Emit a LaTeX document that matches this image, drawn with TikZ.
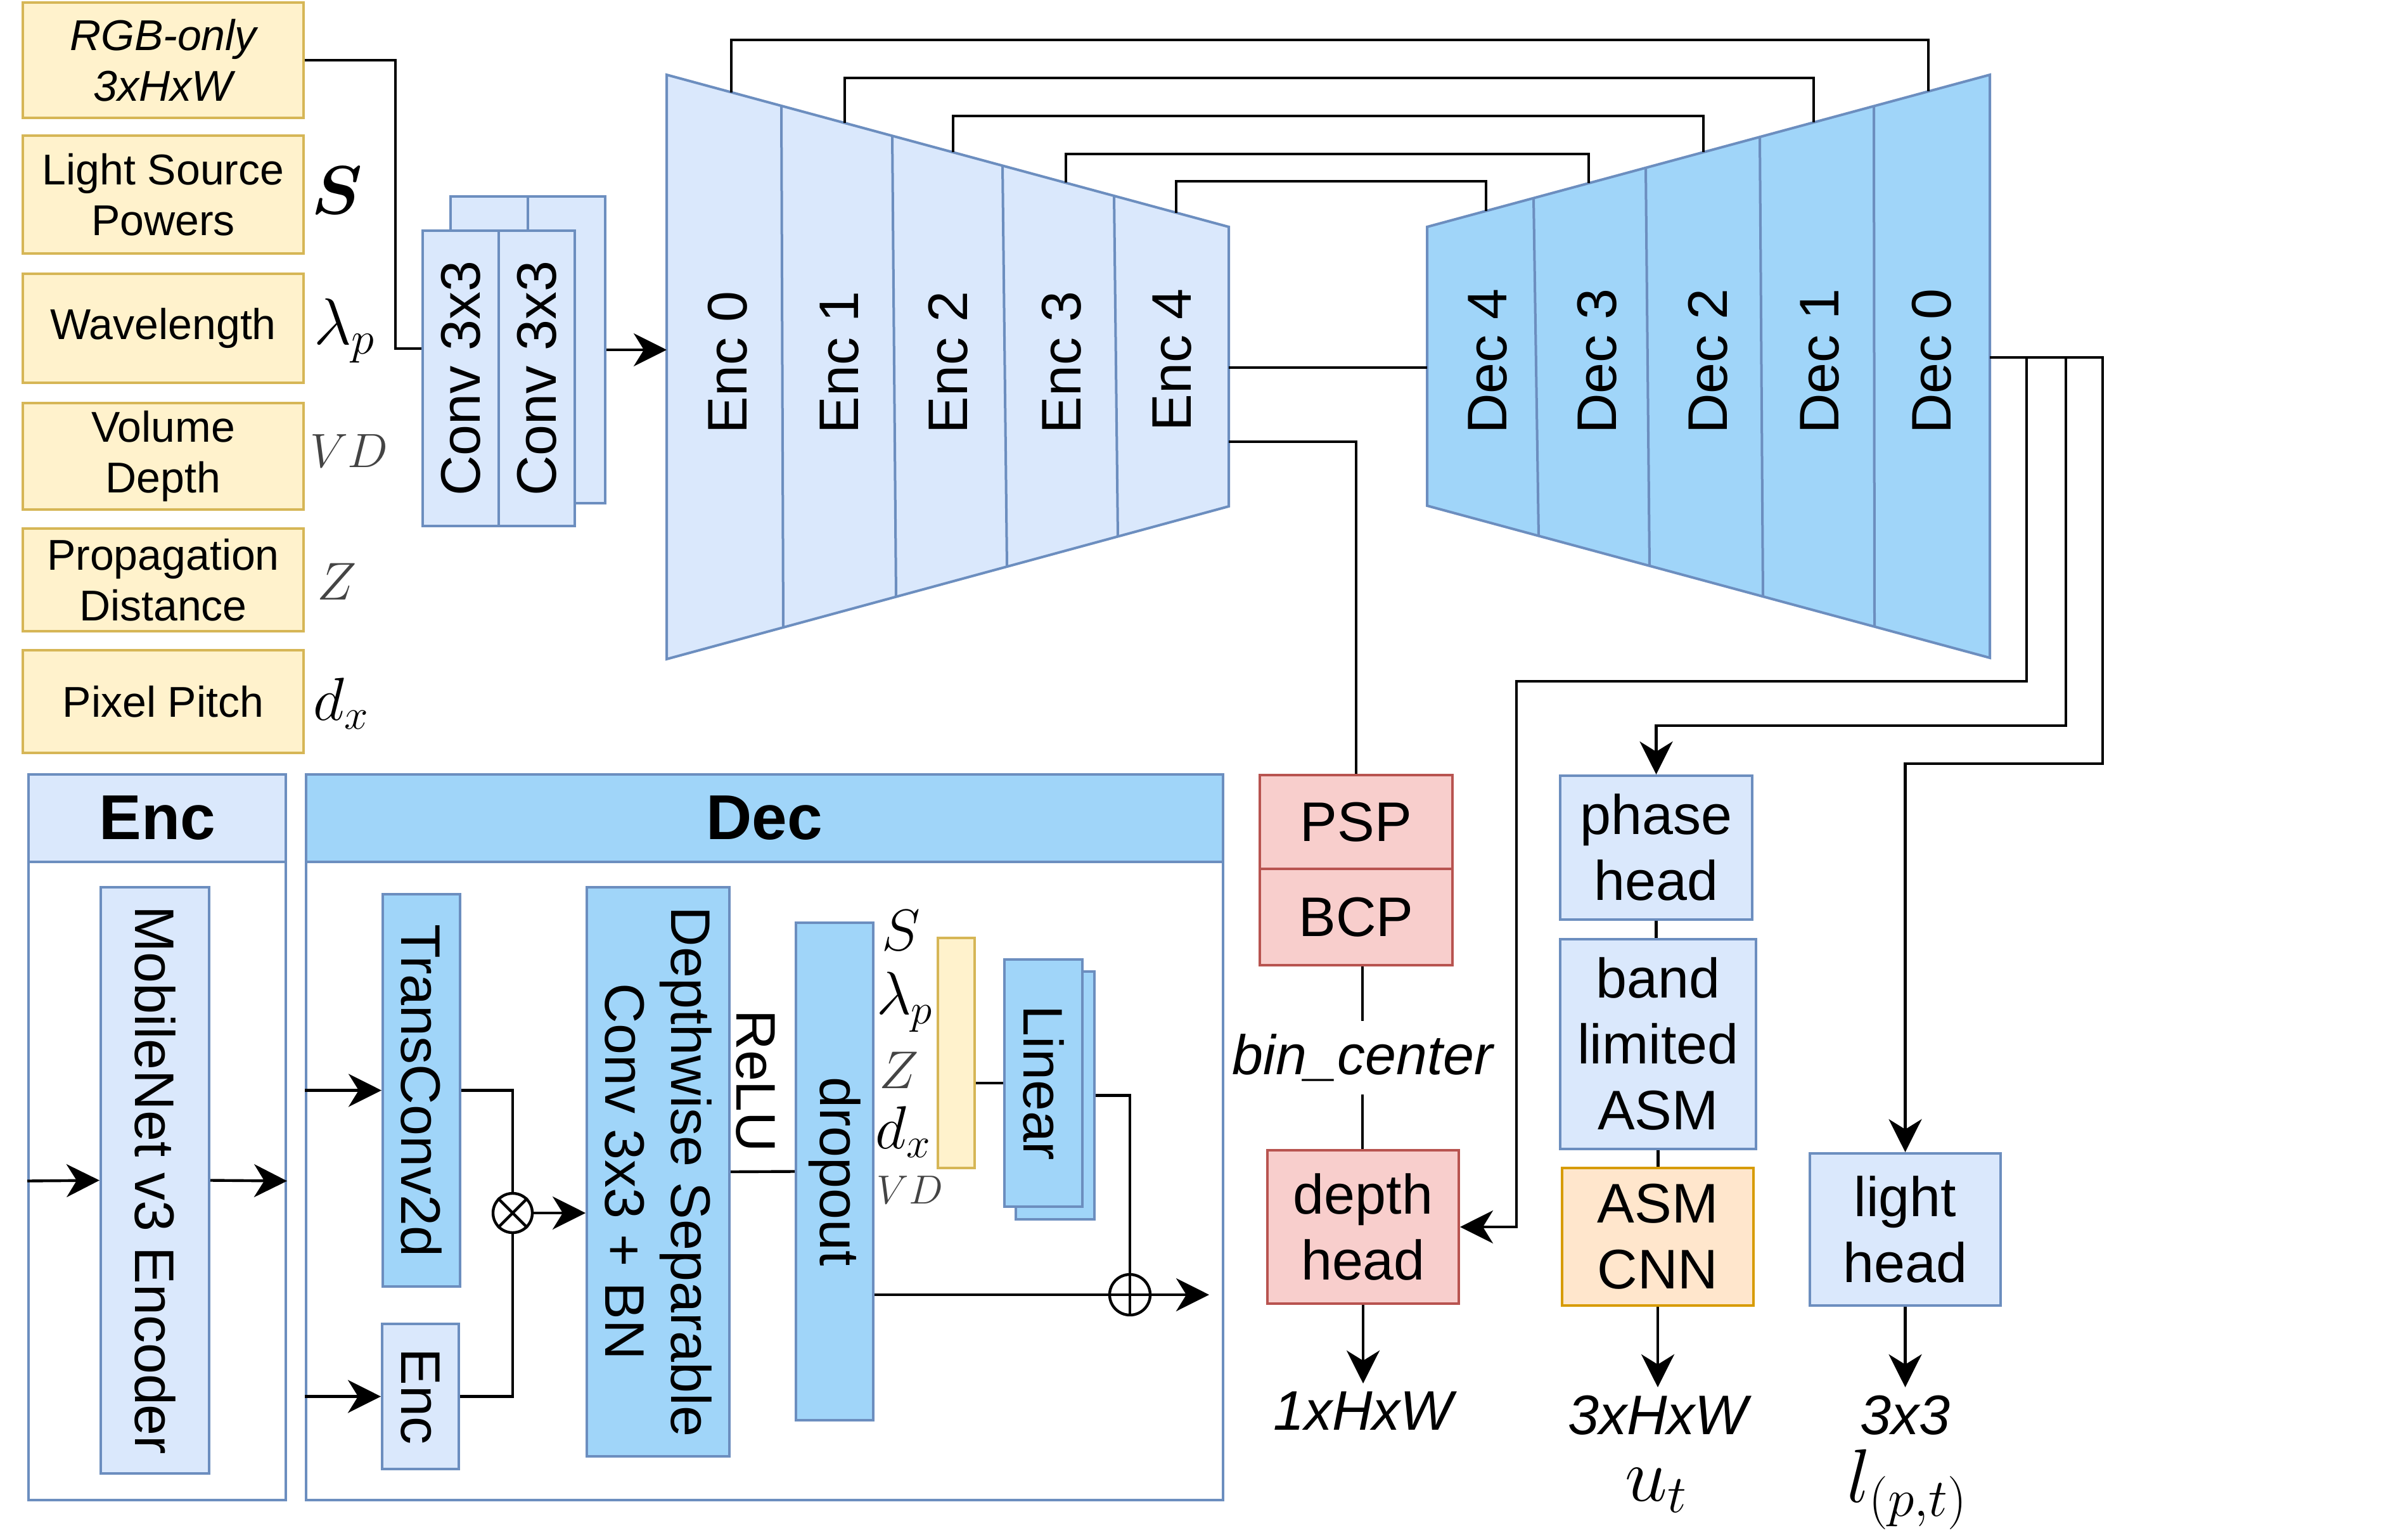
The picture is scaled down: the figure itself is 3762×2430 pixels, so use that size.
\RequirePackage{fix-cm}
\documentclass[tikz,border=0pt]{standalone}
\usepackage[no-math]{fontspec}
\setmainfont{Liberation Sans}
\usepackage{bm}
\usetikzlibrary{arrows.meta, positioning}

\definecolor{blueFill}{HTML}{DAE8FC}
\definecolor{blueLine}{HTML}{6C8EBF}
\definecolor{deepFill}{HTML}{A0D5F9}
\definecolor{yellowFill}{HTML}{FFF2CC}
\definecolor{yellowLine}{HTML}{D6B656}
\definecolor{redFill}{HTML}{F8CECC}
\definecolor{redLine}{HTML}{B85450}
\definecolor{orangeFill}{HTML}{FFE6CC}
\definecolor{orangeLine}{HTML}{D79B00}
\definecolor{mathGray}{HTML}{444444}

\newcommand{\bigtext}{\fontsize{22}{26}\selectfont}
\newcommand{\smalltext}{\fontsize{17}{20}\selectfont}
\newcommand{\headtext}{\fontsize{25}{30}\selectfont\bfseries}

\begin{document}
\begin{tikzpicture}[
		x=0.25pt, y=-0.25pt,
		inbox/.style={draw=yellowLine, fill=yellowFill, line width=1pt, align=center, inner sep=0pt, minimum width=110.75pt, font=\smalltext},
		box/.style={draw=blueLine, fill=blueFill, line width=1pt, align=center, inner sep=0pt, font=\bigtext},
		deepbox/.style={box, fill=deepFill},
		redbox/.style={box, draw=redLine, fill=redFill},
		orangebox/.style={box, draw=orangeLine, fill=orangeFill},
		vtext/.style={label={[rotate=-90, align=center, font=\bigtext]center:#1}},
		vtextup/.style={label={[rotate=90, align=center, font=\bigtext]center:#1}},
		trap/.style={draw=blueLine, line width=1pt},
		mathlbl/.style={inner sep=0pt, font=\fontsize{24}{28}\selectfont},
		outlabel/.style={inner sep=3pt, font=\bigtext\itshape},
		conn/.style={line width=1.1pt},
		arrow/.style={conn, -{Stealth[length=13pt, width=13pt, inset=4pt]}},
		circ/.style={draw, circle, line width=1.1pt, inner sep=0pt}
		]
		\useasboundingbox (0,0) rectangle (3762,2430);
		
		% Inputs
		\node[inbox, minimum height=45.5pt, font=\smalltext\itshape] (rgb) at (257.5,95) {RGB-only\\3xHxW};
		\node[inbox, minimum height=46.5pt, below=6pt of rgb] (lsp) {Light Source\\Powers};
		\node[inbox, minimum height=43pt, below=7pt of lsp] (wav) {Wavelength};
		\node[inbox, minimum height=42pt, below=7pt of wav] (vdep) {Volume\\Depth};
		\node[inbox, minimum height=40.5pt, below=6.5pt of vdep] (prop) {Propagation\\Distance};
		\node[inbox, minimum height=40.5pt, below=6.5pt of prop] (pix) {Pixel Pitch};
		
		% Input symbols
		\node[mathlbl, font=\fontsize{27}{30}\selectfont] (ssym) at (532,300) {$\bm{S}$};
		\node[mathlbl, font=\fontsize{26}{30}\selectfont] (lamsym) at (544,522) {$\lambda_p$};
		\node[mathlbl, text=mathGray, font=\fontsize{19}{22}\selectfont] (vdsym) at (551,712) {$VD$};
		\node[mathlbl, text=mathGray, font=\fontsize{21}{24}\selectfont] (zsym) at (532,918) {$Z$};
		\node[mathlbl] (dxsym) at (539,1110) {$d_x$};
		
		% Conv stem
		\node[box, minimum width=30.5pt, minimum height=121pt] (cb1) at (772,552) {};
		\node[box, minimum width=30.5pt, minimum height=121pt] (cb2) at (894,552) {};
		\node[box, vtextup=Conv 3x3, minimum width=30pt, minimum height=116.5pt] (cf1) at (727,597) {};
		\node[box, vtextup=Conv 3x3, minimum width=30pt, minimum height=116.5pt] (cf2) at (847,597) {};
		
		% Encoder
		\draw[trap, fill=blueFill] (1052,118) -- (1939,358) -- (1939,799) -- (1052,1040) -- cycle;
		\draw[trap] (1233,167) -- (1236,990) (1408,214) -- (1414,942) (1582,261) -- (1589,894) (1758,309) -- (1764,847);
		\node[rotate=90, font=\bigtext] (enc0) at (1148,572) {Enc 0};
		\node[rotate=90, font=\bigtext] (enc1) at (1325,572) {Enc 1};
		\node[rotate=90, font=\bigtext] (enc2) at (1496,572) {Enc 2};
		\node[rotate=90, font=\bigtext] (enc3) at (1675,572) {Enc 3};
		\node[rotate=90, font=\bigtext] (enc4) at (1850,568) {Enc 4};
		
		% Decoder
		\draw[trap, fill=deepFill] (2252,358) -- (3140,118) -- (3140,1038) -- (2252,798) -- cycle;
		\draw[trap] (2420,313) -- (2428,846) (2597,265) -- (2603,893) (2777,216) -- (2782,941) (2957,167) -- (2958,989);
		\node[rotate=90, font=\bigtext] (dec4) at (2348,570) {Dec 4};
		\node[rotate=90, font=\bigtext] (dec3) at (2520,570) {Dec 3};
		\node[rotate=90, font=\bigtext] (dec2) at (2695,570) {Dec 2};
		\node[rotate=90, font=\bigtext] (dec1) at (2872,570) {Dec 1};
		\node[rotate=90, font=\bigtext] (dec0) at (3048,570) {Dec 0};
		
		% Ports on the trapezoids
		\coordinate (encL) at (1052,552);
		\coordinate (encR) at (1939,580);
		\coordinate (encR2) at (1939,697);
		\coordinate (decL) at (2252,580);
		\coordinate (decR) at (3140,564);
		\coordinate (e0t) at (1154,146);
		\coordinate (e1t) at (1333,194);
		\coordinate (e2t) at (1504,240);
		\coordinate (e3t) at (1682,288);
		\coordinate (e4t) at (1856,336);
		\coordinate (d0t) at (3043,144);
		\coordinate (d1t) at (2862,193);
		\coordinate (d2t) at (2688,240);
		\coordinate (d3t) at (2507,289);
		\coordinate (d4t) at (2345,333);
		
		% Enc panel
		\node[box, minimum width=101.5pt, minimum height=34.5pt, font=\headtext] (enchd) at (248,1291) {Enc};
		\node[box, fill=white, minimum width=101.5pt, minimum height=251.75pt] (encbody) at (248,1863.5) {};
		\node[box, vtext=MobileNet v3 Encoder, minimum width=42.75pt, minimum height=231.25pt] (mob) at (244.5,1862.5) {};
		
		% Dec panel
		\node[deepbox, minimum width=361.75pt, minimum height=34.5pt, font=\headtext] (dechd) at (1206.5,1291) {Dec};
		\node[box, fill=white, minimum width=361.75pt, minimum height=251.75pt] (decbody) at (1206.5,1863.5) {};
		\node[deepbox, vtext=TransConv2d, minimum width=30.5pt, minimum height=154.75pt] (tconv) at (665,1720.5) {};
		\node[box, vtext=Enc, minimum width=30.25pt, minimum height=57.25pt] (encskip) at (663.5,2203.5) {};
		\node[circ, minimum size=15.5pt] (mult) at (809,1914) {};
		\node[deepbox, vtext={Depthwise Separable\\Conv 3x3 + BN}, minimum width=56.25pt, minimum height=224.5pt] (dws) at (1038.5,1849) {};
		\node[rotate=-90, font=\bigtext] (relu) at (1192,1706) {ReLU};
		\node[deepbox, vtext=dropout, minimum width=30.5pt, minimum height=196.25pt] (drop) at (1317,1848.5) {};
		\node[mathlbl, font=\fontsize{23}{26}\selectfont] (ssym2) at (1422,1468) {$S$};
		\node[mathlbl] (lamsym2) at (1428,1581) {$\lambda_p$};
		\node[mathlbl, text=mathGray, font=\fontsize{21}{24}\selectfont] (zsym2) at (1419,1689) {$Z$};
		\node[mathlbl] (dxsym2) at (1426,1786) {$d_x$};
		\node[mathlbl, text=mathGray, font=\fontsize{16}{19}\selectfont] (vdsym2) at (1436,1878) {$VD$};
		\node[inbox, minimum width=14.5pt, minimum height=90.75pt] (film) at (1509,1661.5) {};
		\node[deepbox, minimum width=31pt, minimum height=97.75pt] (linb) at (1665,1728.5) {};
		\node[deepbox, vtext=Linear, minimum width=30.75pt, minimum height=97.5pt] (linf) at (1646.5,1709) {};
		\node[circ, minimum size=16pt] (plus) at (1783,2043) {};
		\coordinate (decout) at (1908,2043);
		
		% Depth head
		\node[redbox, minimum width=76pt, minimum height=37pt] (psp) at (2140,1297) {PSP};
		\node[redbox, minimum width=76pt, minimum height=38pt] (bcp) at (2140,1447) {BCP};
		\node[font=\bigtext\itshape, inner sep=5pt] (bin) at (2150,1669) {bin\_center};
		\node[redbox, minimum width=75.5pt, minimum height=60.5pt] (depth) at (2151,1936) {depth\\head};
		\node[outlabel, below=31pt of depth] (out1) {1xHxW};
		
		% Phase head
		\node[box, minimum width=75.75pt, minimum height=56.75pt] (phase) at (2613.5,1337.5) {phase\\head};
		\node[box, minimum width=77.25pt, minimum height=82.75pt] (band) at (2616.5,1647.5) {band\\limited\\ASM};
		\node[orangebox, minimum width=75.5pt, minimum height=54.25pt] (asm) at (2616,1951.5) {ASM\\CNN};
		\node[outlabel, below=31.75pt of asm] (out2) {3xHxW};
		\node[mathlbl, font=\fontsize{30}{34}\selectfont] (ut) at (2614,2352) {$u_t$};
		
		% Light head
		\node[box, minimum width=75.25pt, minimum height=60pt] (light) at (3006.5,1940) {light\\head};
		\node[outlabel, below=31.75pt of light] (out3) {3x3};
		\node[mathlbl, font=\fontsize{30}{34}\selectfont] (lpt) at (3010,2350) {$l_{(p,t)}$};
		
		% Arrows
		\draw[conn] (rgb.east) -- ++(143,0) |- ([yshift=11.75pt]cf1.west);
		\draw[arrow] (cb2.east) -- (encL);
		\draw[conn] (encR) -- (decL);
		\draw[conn] (e0t) -- ++(0,-83) -| (d0t);
		\draw[conn] (e1t) -- ++(0,-71) -| (d1t);
		\draw[conn] (e2t) -- ++(0,-57) -| (d2t);
		\draw[conn] (e3t) -- ++(0,-45) -| (d3t);
		\draw[conn] (e4t) -- ++(0,-50) -| (d4t);
		\draw[conn] (encR2) -| (psp.north);
		\draw[arrow] (decR) -- ++(58,0) -- ++(0,511) -- ++(-805,0) |- (depth.east);
		\draw[arrow] (decR) -- ++(120,0) -- ++(0,581) -| (phase.north);
		\draw[arrow] (decR) -- ++(178,0) -- ++(0,641) -| (light.north);
		\draw[conn] (bin.north |- bcp.south) -- (bin.north);
		\draw[conn] (bin.south) -- (bin.south |- depth.north);
		\draw[arrow] (depth.south) -- (out1.north);
		\draw[conn] (phase.south) -- (phase.south |- band.north);
		\draw[conn] (band.south) -- (band.south |- asm.north);
		\draw[arrow] (asm.south) -- (out2.north);
		\draw[arrow] (light.south) -- (out3.north);
		
		% Panel arrows
		\draw[arrow] (encbody.west) -- (mob.west);
		\draw[arrow] (mob.east) -- (encbody.east);
		\draw[arrow] (decbody.west |- tconv) -- (tconv.west);
		\draw[arrow] (decbody.west |- encskip) -- (encskip.west);
		\draw[conn] (tconv.east) -| (mult.north);
		\draw[conn] (encskip.east) -| (mult.south);
		\draw[conn] (mult.north east) -- (mult.south west) (mult.north west) -- (mult.south east);
		\draw[arrow] (mult.east) -- (mult -| dws.west);
		\draw[conn] (dws.east) -- (drop.west);
		\draw[conn] (film.east |- linf) -- (linf.west);
		\draw[conn] (linb.east) -| (plus.north);
		\draw[conn] (drop.east |- plus) -- (plus.west);
		\draw[conn] (plus.north) -- (plus.south) (plus.west) -- (plus.east);
		\draw[arrow] (plus.east) -- (decout);
		
	\end{tikzpicture}
\end{document}
